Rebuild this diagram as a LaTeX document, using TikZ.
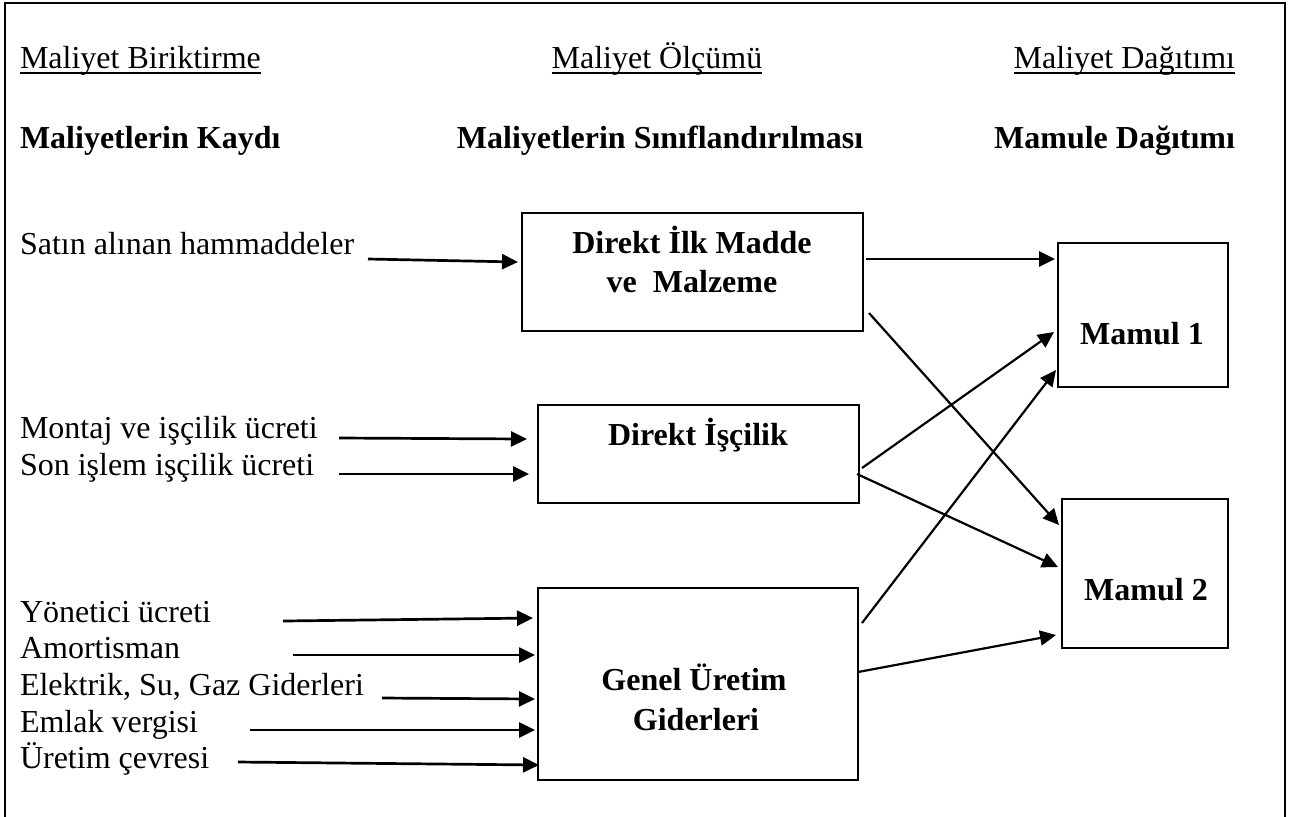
\documentclass[tikz,border=0pt]{standalone}
\usepackage{fontspec}
\setmainfont{Liberation Serif}
\usetikzlibrary{arrows.meta,calc,fit}
\begin{document}
\begin{tikzpicture}[x=0.5pt,y=-0.5pt,
  every node/.style={inner sep=0pt,outer sep=0pt,font=\fontsize{16}{19}\selectfont},
  lbl/.style={anchor=base west},
  hd/.style={anchor=base},
  bf/.style={font=\fontsize{16}{19}\selectfont\bfseries},
  box/.style={draw,line width=1pt,inner sep=0pt},
  ulin/.style={line width=0.8pt},
  arr/.style={-{Triangle[length=8pt,width=7.5pt]},line width=1.35pt},
  darr/.style={-{Triangle[length=8pt,width=7.5pt]},line width=1.1pt}]
\useasboundingbox (0,0) rectangle (1294,816);

% outer frame (open at the bottom edge)
\draw[line width=1.3pt] (5,820) -- (5,3) -- (1285,3) -- (1285,820);

% column headings
\node[lbl] (h1) at (20,68) {Maliyet Biriktirme};
\node[hd]  (h2) at (657,68) {Maliyet Ölçümü};
\node[anchor=base east] (h3) at (1235,68) {Maliyet Dağıtımı};
\foreach \h in {h1,h2,h3}
  \draw[ulin] ([yshift=-2.6pt]\h.base west) -- ([yshift=-2.6pt]\h.base east);

\node[lbl,bf] (k1) at (20,148) {Maliyetlerin Kaydı};
\node[hd,bf] (k2) at (660,148) {Maliyetlerin Sınıflandırılması};
\node[anchor=base east,bf] (k3) at (1235,148) {Mamule Dağıtımı};

% classification boxes
\node[box,fit={(522,213) (863,331)}] (b1) {};
\node[box,fit={(538,405) (859,503)}] (b2) {};
\node[box,fit={(538,588) (858,780)}] (b3) {};
% product boxes
\node[box,fit={(1058,243) (1228,387)}] (m1) {};
\node[box,fit={(1062,499) (1228,648)}] (m2) {};

\node[hd,bf] (b1a) at (692,253) {Direkt İlk Madde};
\node[hd,bf] (b1b) at (692,292) {ve\ \ Malzeme};
\node[hd,bf] (b2a) at (698,445) {Direkt İşçilik};
\node[hd,bf] (b3a) at (694,690) {Genel Üretim};
\node[hd,bf] (b3b) at (696,730) {Giderleri};
\node[hd,bf] (m1a) at (1142,344) {Mamul 1};
\node[hd,bf] (m2a) at (1146,600) {Mamul 2};

% cost items
\node[lbl] (l1) at (20,254) {Satın alınan hammaddeler};
\node[lbl] (l2) at (20,438) {Montaj ve işçilik ücreti};
\node[lbl] (l3) at (20,475) {Son işlem işçilik ücreti};
\node[lbl] (l4) at (20,622) {Yönetici ücreti};
\node[lbl] (l5) at (20,658) {Amortisman};
\node[lbl] (l6) at (20,695) {Elektrik, Su, Gaz Giderleri};
\node[lbl] (l7) at (20,732) {Emlak vergisi};
\node[lbl] (l8) at (20,768) {Üretim çevresi};

\coordinate (s1) at (368,259);
\coordinate (s2) at (339,438);
\coordinate (s3) at (339,474);
\coordinate (s4) at (283,621);
\coordinate (s5) at (293,655);
\coordinate (s6) at (382,698);
\coordinate (s7) at (250,730);
\coordinate (s8) at (238,762);

\draw[arr] (s1) -- ($(b1.west)+(-4,-10)$);
\draw[arr] (s2) -- ($(b2.west)+(-11,-15)$);
\draw[arr] (s3) -- ($(b2.west)+(-9,20)$);
\draw[arr] (s4) -- ($(b3.west)+(-5,-66)$);
\draw[arr] (s5) -- ($(b3.west)+(-3,-29)$);
\draw[arr] (s6) -- ($(b3.west)+(-3,15)$);
\draw[arr] (s7) -- ($(b3.west)+(-3,46)$);
\draw[arr] (s8) -- ($(b3.west)+(1,81)$);

% allocation to products
\draw[arr]  ($(b1.east)+(3,-13)$) -- ($(m1.west)+(-3,-56)$);
\draw[darr] ($(b1.east)+(6,41)$)  -- ($(m2.west)+(-3,-48.5)$);
\draw[darr] ($(b2.east)+(3,14)$)  -- ($(m1.west)+(-4,17)$);
\draw[darr] ($(b2.east)+(-2,20)$) -- ($(m2.west)+(-4,-6.5)$);
\draw[darr] ($(b3.east)+(4,-61)$) -- ($(m1.west)+(-2,55)$);
\draw[darr] ($(b3.east)+(0,-12)$) -- ($(m2.west)+(-6,61.5)$);
\end{tikzpicture}
\end{document}
